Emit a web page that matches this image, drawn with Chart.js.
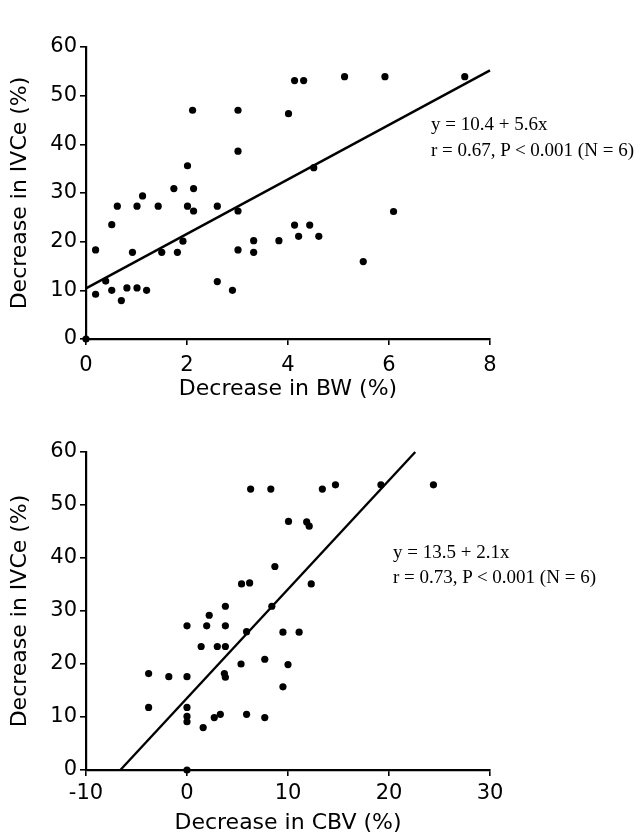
<!DOCTYPE html>
<html>
<head>
<meta charset="utf-8">
<title>Decrease in IVCe vs BW and CBV</title>
<script src="https://cdn.jsdelivr.net/npm/chart.js@4.4.1/dist/chart.umd.min.js"></script>
<style>
    html, body { margin: 0; padding: 0; background: #fff; }
    body { width: 641px; height: 836px; position: relative; overflow: hidden; }
    .panel { position: absolute; left: 0; width: 641px; }
    #top-panel { top: 0; height: 420px; }
    #bottom-panel { top: 420px; height: 416px; }
    .fit-label {
        position: absolute;
        font-family: 'Liberation Serif', 'Times New Roman', serif;
        font-size: 19px;
        line-height: 26px;
        color: #000;
        white-space: nowrap;
    }
</style>
</head>
<body>
<div class="panel" id="top-panel"><canvas id="bwChart"></canvas></div>
<div class="panel" id="bottom-panel"><canvas id="cbvChart"></canvas></div>
<div class="fit-label" style="left:431px; top:111px;">y = 10.4 + 5.6x<br>r = 0.67, P &lt; 0.001 (N = 6)</div>
<div class="fit-label" style="left:393px; top:539px; line-height:25px;">y = 13.5 + 2.1x<br>r = 0.73, P &lt; 0.001 (N = 6)</div>

<script>
// Top panel: decrease in body weight (%) vs decrease in IVCe (%)
const bwValues = [0, 0.19, 0.19, 0.39, 0.51, 0.51, 0.62, 0.70, 0.81, 0.92, 1.01, 1.01, 1.12, 1.2, 1.43, 1.50,
    1.74, 1.81, 1.92, 2.01, 2.01, 2.11, 2.13, 2.13, 2.6, 2.6, 2.9, 3.01, 3.01, 3.01, 3.01, 3.32, 3.32, 3.82,
    4.01, 4.13, 4.31, 5.12, 5.92, 7.5, 4.51, 6.09, 4.13, 4.43, 4.21, 4.61, 5.49];
const ivceTop = [0, 18.3, 9.2, 11.9, 23.5, 10.0, 27.3, 7.9, 10.5, 17.8, 27.3, 10.5, 29.4, 10.0, 27.3, 17.8,
    30.9, 17.8, 20.1, 35.6, 27.3, 47.0, 30.9, 26.3, 27.3, 11.8, 10.0, 47.0, 38.6, 26.3, 18.3, 20.2, 17.8, 20.2,
    46.3, 53.1, 53.1, 53.9, 53.9, 53.9, 35.2, 26.2, 23.4, 23.4, 21.1, 21.1, 15.9];
const bwFitX = [0, 8];
const bwFitY = [10.4, 55.2];
const bwTicks = [0, 2, 4, 6, 8];

// Bottom panel: decrease in circulating blood volume (%) vs decrease in IVCe (%)
const cbvValues = [-3.8, -3.8, -1.8, 0, 0, 0, 0, 0, 0, 1.4, 1.6, 1.95, 2.2, 2.7, 3.0, 3.3, 3.8, 3.8, 3.8, 3.7,
    3.8, 5.35, 5.4, 6.2, 5.9, 5.9, 6.3, 7.7, 7.7, 8.3, 8.4, 8.7, 9.5, 9.5, 10.05, 10.0, 11.1, 11.85, 12.1, 12.3,
    13.4, 14.7, 19.2, 24.4];
const ivceBottom = [18.2, 11.8, 17.6, 27.2, 17.6, 11.8, 10.1, 9.1, 0, 23.3, 8.0, 27.2, 29.2, 9.9, 23.3, 10.5,
    30.9, 27.2, 23.3, 18.2, 17.5, 20.0, 35.1, 35.3, 26.1, 10.5, 53.0, 20.9, 9.9, 53.0, 30.9, 38.4, 26.0, 15.7,
    46.9, 19.9, 26.0, 46.8, 46.0, 35.1, 53.0, 53.8, 53.8, 53.8];
const cbvFitX = [-6.6, 22.6];
const cbvFitY = [0, 60];
const cbvTicks = [-10, 0, 10, 20, 30];

const ivceTicks = [0, 10, 20, 30, 40, 50, 60];

const ink = '#000';
const tickFont = { family: "'DejaVu Sans', sans-serif", size: 21 };
const titleFont = { family: "'DejaVu Sans', sans-serif", size: 22 };

function toPoints(xs, ys) {
    return xs.map((x, i) => ({ x: x, y: ys[i] }));
}

function buildChart(canvasId, opts) {
    const ctx = document.getElementById(canvasId);
    const xStep = opts.xTicks[1] - opts.xTicks[0];
    const yStep = ivceTicks[1] - ivceTicks[0];

    return new Chart(ctx, {
        type: 'scatter',
        data: {
            datasets: [
                {
                    label: 'Subjects',
                    data: toPoints(opts.xs, opts.ys),
                    backgroundColor: ink,
                    borderWidth: 0,
                    pointRadius: 3.6,
                    pointHoverRadius: 3.6,
                    clip: false,
                    order: 2
                },
                {
                    label: 'Regression',
                    type: 'line',
                    data: toPoints(opts.fitX, opts.fitY),
                    borderColor: ink,
                    borderWidth: 2.4,
                    pointRadius: 0,
                    fill: false,
                    tension: 0,
                    clip: false,
                    order: 1
                }
            ]
        },
        options: {
            responsive: true,
            maintainAspectRatio: false,
            animation: false,
            layout: {
                padding: { left: 0, top: opts.padTop, right: 151, bottom: 0 }
            },
            plugins: {
                legend: { display: false },
                tooltip: { enabled: false }
            },
            scales: {
                x: {
                    type: 'linear',
                    min: opts.xTicks[0],
                    max: opts.xTicks[opts.xTicks.length - 1],
                    afterBuildTicks: (scale) => {
                        scale.ticks = opts.xTicks.map(v => ({ value: v }));
                    },
                    afterFit: (scale) => { scale.height = opts.xAxisHeight; },
                    border: { display: true, color: ink, width: 2.2 },
                    grid: { drawOnChartArea: false, drawTicks: true, tickLength: 6, color: ink, lineWidth: 1.6 },
                    ticks: { stepSize: xStep, color: ink, font: tickFont, padding: opts.xTickPad, maxRotation: 0 },
                    title: {
                        display: true,
                        text: opts.xTitle,
                        color: ink,
                        font: titleFont,
                        padding: { top: 0, bottom: opts.xTitlePad }
                    }
                },
                y: {
                    type: 'linear',
                    min: ivceTicks[0],
                    max: ivceTicks[ivceTicks.length - 1],
                    afterBuildTicks: (scale) => {
                        scale.ticks = ivceTicks.map(v => ({ value: v }));
                    },
                    afterFit: (scale) => { scale.width = 86; },
                    border: { display: true, color: ink, width: 2.2 },
                    grid: { drawOnChartArea: false, drawTicks: true, tickLength: 6, color: ink, lineWidth: 1.6 },
                    ticks: { stepSize: yStep, color: ink, font: tickFont, padding: 3 },
                    title: {
                        display: true,
                        text: 'Decrease in IVCe (%)',
                        color: ink,
                        font: titleFont,
                        padding: { top: 7, bottom: 0 }
                    }
                }
            }
        }
    });
}

document.addEventListener('DOMContentLoaded', function () {
    buildChart('bwChart', {
        xs: bwValues,
        ys: ivceTop,
        fitX: bwFitX,
        fitY: bwFitY,
        xTicks: bwTicks,
        xTitle: 'Decrease in BW (%)',
        padTop: 47,
        xAxisHeight: 81,
        xTickPad: 8,
        xTitlePad: 18
    });

    buildChart('cbvChart', {
        xs: cbvValues,
        ys: ivceBottom,
        fitX: cbvFitX,
        fitY: cbvFitY,
        xTicks: cbvTicks,
        xTitle: 'Decrease in CBV (%)',
        padTop: 32,
        xAxisHeight: 66,
        xTickPad: 5,
        xTitlePad: 0
    });
});
</script>
</body>
</html>
